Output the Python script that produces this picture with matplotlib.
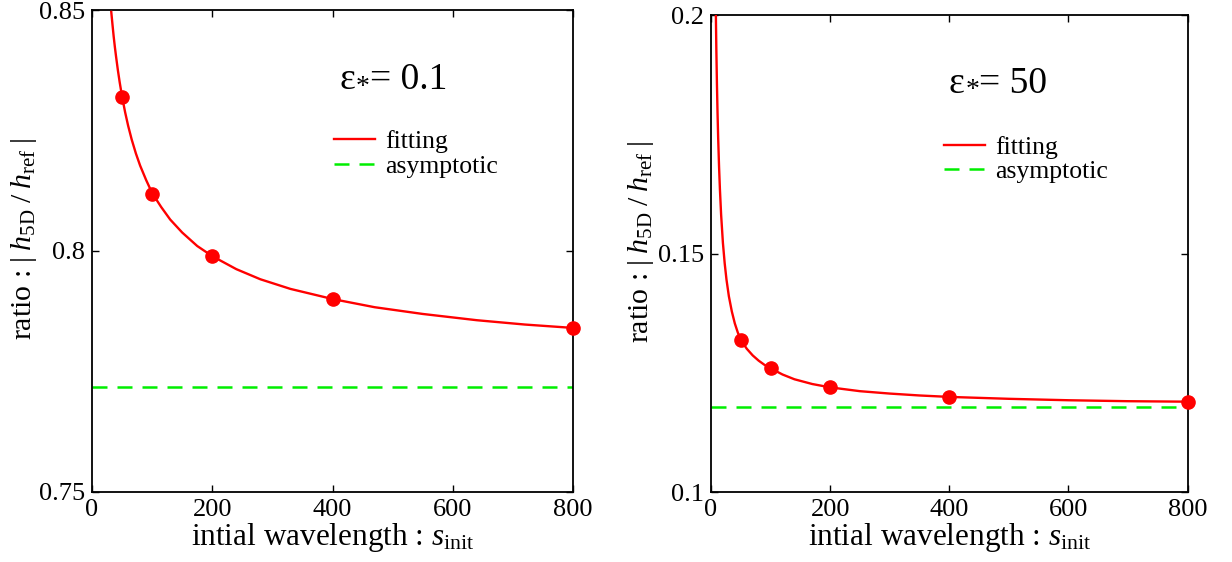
import numpy as np
import matplotlib
matplotlib.use("Agg")
import matplotlib.pyplot as plt

plt.rcParams['font.family'] = ['Liberation Serif', 'DejaVu Serif']
plt.rcParams['mathtext.fontset'] = 'custom'
plt.rcParams['mathtext.rm'] = 'Liberation Serif'
plt.rcParams['mathtext.it'] = 'Liberation Serif:italic'
plt.rcParams['mathtext.bf'] = 'Liberation Serif:bold'

# ---- data ----
s_init = [50, 100, 200, 400, 800]

ratio_eps01 = [0.8320, 0.8118, 0.7989, 0.7900, 0.7840]
asym_eps01 = 0.7717
fit_x_eps01 = [32, 34, 36, 38, 40, 43, 46, 50, 55, 60, 66, 73, 80, 90, 100, 115, 130,
               150, 175, 200, 240, 280, 330, 400, 470, 550, 640, 720, 800]
fit_y_eps01 = [0.8496, 0.8470, 0.8445, 0.8423, 0.8403, 0.8375, 0.8350, 0.8320, 0.8288,
               0.8260, 0.8231, 0.8202, 0.8177, 0.8147, 0.8120, 0.8091, 0.8065, 0.8038,
               0.8010, 0.7989, 0.7962, 0.7941, 0.7921, 0.7900, 0.7883, 0.7869, 0.7856,
               0.7847, 0.7840]

ratio_eps50 = [0.1320, 0.1260, 0.1220, 0.1200, 0.1190]
asym_eps50 = 0.1178
fit_x_eps50 = [8, 9, 10, 11, 12, 13.5, 15, 17, 20, 23, 26, 30, 35, 40, 45, 50, 60, 70,
               80, 90, 100, 120, 140, 170, 200, 250, 300, 350, 400, 500, 600, 700, 800]
fit_y_eps50 = [0.2018, 0.1927, 0.1855, 0.1795, 0.1745, 0.1684, 0.1635, 0.1582, 0.1523,
               0.1480, 0.1446, 0.1411, 0.1379, 0.1354, 0.1335, 0.1320, 0.1301, 0.1287,
               0.1276, 0.1267, 0.1260, 0.1247, 0.1237, 0.1227, 0.1220, 0.1212, 0.1207,
               0.1203, 0.1200, 0.1196, 0.1193, 0.1191, 0.1190]

xticks = [0, 200, 400, 600, 800]
yticks_eps01 = [0.75, 0.8, 0.85]
yticklabels_eps01 = ['0.75', '0.8', '0.85']
yticks_eps50 = [0.1, 0.15, 0.2]
yticklabels_eps50 = ['0.1', '0.15', '0.2']

labels = ['fitting', 'asymptotic']
eps_values = ['0.1', '50']

RED = '#ff0000'
GREEN = '#00ee00'

fig = plt.figure(figsize=(12.32, 5.62), dpi=100)
ax1 = fig.add_axes([0.0747, 0.1251, 0.3904, 0.8571])
ax2 = fig.add_axes([0.5771, 0.1240, 0.3869, 0.8488])

panels = [
    (ax1, fit_x_eps01, fit_y_eps01, ratio_eps01, asym_eps01, (0.75, 0.85),
     yticks_eps01, yticklabels_eps01, eps_values[0], (0.514, 0.835), (0.503, 0.750),
     (-0.110, 0.525)),
    (ax2, fit_x_eps50, fit_y_eps50, ratio_eps50, asym_eps50, (0.1, 0.2),
     yticks_eps50, yticklabels_eps50, eps_values[1], (0.499, 0.838), (0.489, 0.747),
     (-0.115, 0.525)),
]

for (ax, fx, fy, pts, asym, ylim, yt, ytl, epsv, tpos, lpos, ylpos) in panels:
    ax.plot(fx, fy, color=RED, lw=1.7, label=labels[0], zorder=3)
    ax.plot([0, 800], [asym, asym], color=GREEN, lw=1.8, dashes=(6, 4),
            label=labels[1], zorder=2)
    ax.plot(s_init, pts, 'o', color=RED, ms=9.5, zorder=4, clip_on=False)
    ax.set_xlim(0, 800)
    ax.set_ylim(*ylim)
    ax.set_xticks(xticks)
    ax.set_xticklabels([str(v) for v in xticks])
    ax.set_yticks(yt)
    ax.set_yticklabels(ytl)
    ax.tick_params(direction='in', length=5, width=1.0, top=True, right=True,
                   labelsize=19, pad=5)
    for sp in ax.spines.values():
        sp.set_linewidth(1.3)
    ax.set_xlabel(r'intial wavelength : $s_{\rm init}$', fontsize=22.5, labelpad=0)
    ax.set_ylabel(r'ratio : $|\;h_{\rm 5D}\;/\;h_{\rm ref}\;|$', fontsize=21.5)
    ax.yaxis.set_label_coords(*ylpos)

    # annotation  "ε* = value"
    t1 = ax.text(tpos[0], tpos[1], 'ε', transform=ax.transAxes, fontsize=27,
                 ha='left', va='baseline')
    t2 = ax.annotate('$*$', xy=(1, 0), xycoords=t1, xytext=(0, -0.5),
                     textcoords='offset points', fontsize=20, ha='left', va='bottom')
    ax.annotate('= ' + epsv, xy=(1, 0), xycoords=(t2, t1), xytext=(0, 0),
                textcoords='offset points', fontsize=27, ha='left', va='bottom')

    ax.legend(loc='upper left', bbox_to_anchor=lpos, frameon=False, fontsize=18.5,
              handlelength=1.6, handletextpad=0.4, labelspacing=0.05,
              borderpad=0, borderaxespad=0)

fig.savefig('out.png', dpi=100)
